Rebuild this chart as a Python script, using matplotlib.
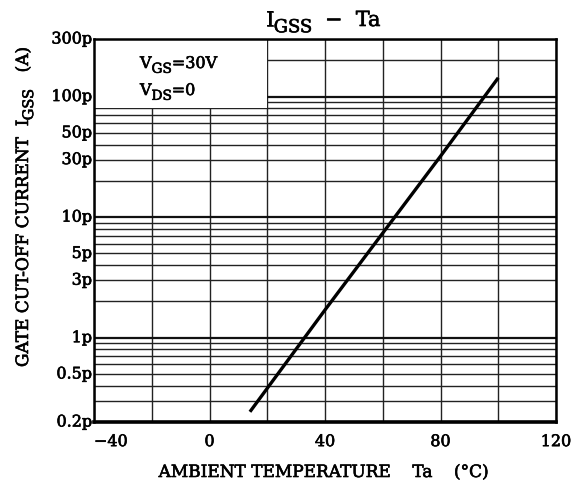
import matplotlib
matplotlib.use("Agg")
import matplotlib.pyplot as plt
from matplotlib.patches import Rectangle
from matplotlib.ticker import FixedLocator, NullFormatter, LogLocator
from matplotlib.transforms import offset_copy
import matplotlib.patheffects as pe

plt.rcParams['font.family'] = ['DejaVu Serif']

# data
ta = [14, 40, 80, 100]                         # ambient temperature (°C)
igss = [0.243e-12, 1.7e-12, 32e-12, 143e-12]   # gate cut-off current (A)

x_ticks = [-40, 0, 40, 80, 120]
x_tick_labels = ["\u221240", "0", "40", "80", "120"]
x_minor = [-20, 20, 60, 100]
y_ticks = [300e-12, 100e-12, 50e-12, 30e-12, 10e-12, 5e-12, 3e-12, 1e-12, 0.5e-12, 0.2e-12]
y_labels = ["300p", "100p", "50p", "30p", "10p", "5p", "3p", "1p", "0.5p", "0.2p"]

FS = 11.5
LFS = 12.2
EFF = [pe.withStroke(linewidth=0.45, foreground='black')]

fig = plt.figure(figsize=(5.81, 4.89), dpi=100)
ax = fig.add_axes([94/581, 1-423/489, (556-94)/581, (423-40)/489])
renderer = fig.canvas.get_renderer()

ax.set_xlim(-40, 120)
ax.set_yscale('log')
ax.set_ylim(0.2e-12, 300e-12)

ax.set_axisbelow(True)
ax.xaxis.set_major_locator(FixedLocator(x_ticks))
ax.xaxis.set_minor_locator(FixedLocator(x_minor))
ax.yaxis.set_major_locator(LogLocator(base=10, subs=(1.0,), numticks=20))
ax.yaxis.set_minor_locator(LogLocator(base=10, subs=(2, 3, 4, 5, 6, 7, 8, 9), numticks=20))
ax.yaxis.set_major_formatter(NullFormatter())
ax.yaxis.set_minor_formatter(NullFormatter())
ax.grid(which='major', axis='y', color='#111111', linewidth=1.6)
ax.grid(which='minor', axis='y', color='#222222', linewidth=1.0)
ax.grid(which='both', axis='x', color='#222222', linewidth=1.0)

# blank box for the test conditions
ax.add_patch(Rectangle((-40, 80e-12), 60, 220e-12, facecolor='white',
                       edgecolor='none', zorder=1))

ax.plot(ta, igss, color='black', linewidth=2.4, solid_capstyle='butt', zorder=3)

for v, s in zip(y_ticks, y_labels):
    ax.text(-0.004, v, s, transform=ax.get_yaxis_transform(), ha='right',
            va='center', fontsize=FS, path_effects=EFF)

ax.set_xticks(x_ticks)
ax.set_xticklabels(x_tick_labels, fontsize=FS)
for t in ax.get_xticklabels():
    t.set_path_effects(EFF)
ax.get_xticklabels()[0].set_horizontalalignment('left')
ax.get_xticklabels()[0].set_x(-38)
ax.tick_params(axis='both', which='both', length=0, pad=8)

for sp in ax.spines.values():
    sp.set_linewidth(1.8)
    sp.set_color('black')
ax.spines['bottom'].set_linewidth(2.6)


def rich(x, y, parts, fontsize, rotation=0, ha='left', transform=None):
    """Draw text made of (string, is_subscript) parts along a baseline."""
    transform = transform or fig.transFigure
    sizes, widths = [], []
    for s, sub in parts:
        fs = fontsize * 0.86 if sub else fontsize
        t = fig.text(0, 0, s, fontsize=fs)
        widths.append(t.get_window_extent(renderer).width)
        t.remove()
        sizes.append(fs)
    total = sum(widths)
    pos = {'left': 0.0, 'center': -total / 2, 'right': -total}[ha]
    px_per_pt = fig.dpi / 72.0
    for (s, sub), fs, w in zip(parts, sizes, widths):
        drop = fontsize * 0.30 * px_per_pt if sub else 0.0
        if rotation == 0:
            dx, dy = pos, -drop
        else:
            dx, dy = drop, pos
        tr = offset_copy(transform, fig=fig, x=dx, y=dy, units='dots')
        fig.text(x, y, s, transform=tr, fontsize=fs, rotation=rotation,
                 rotation_mode='anchor', ha='left', va='baseline',
                 path_effects=EFF)
        pos += w


# x label
fig.text(323/581, 1-478/489, "AMBIENT TEMPERATURE    Ta    (\u00b0C)", ha='center',
         va='baseline', fontsize=LFS, path_effects=EFF)
# y label (rotated)
rich(28/581, 1-208/489, [("GATE CUT-OFF CURRENT  I", False), ("GSS", True),
                          ("   (A)", False)], LFS, rotation=90, ha='center')
# title
rich(323/581, 1-27/489, [("I", False), ("GSS", True), ("  \u2212  Ta", False)],
     15, ha='center')
# conditions
rich(140/581, 1-69/489, [("V", False), ("GS", True), ("=30V", False)], FS)
rich(140/581, 1-96/489, [("V", False), ("DS", True), ("=0", False)], FS)

fig.savefig("out.png", dpi=100)
